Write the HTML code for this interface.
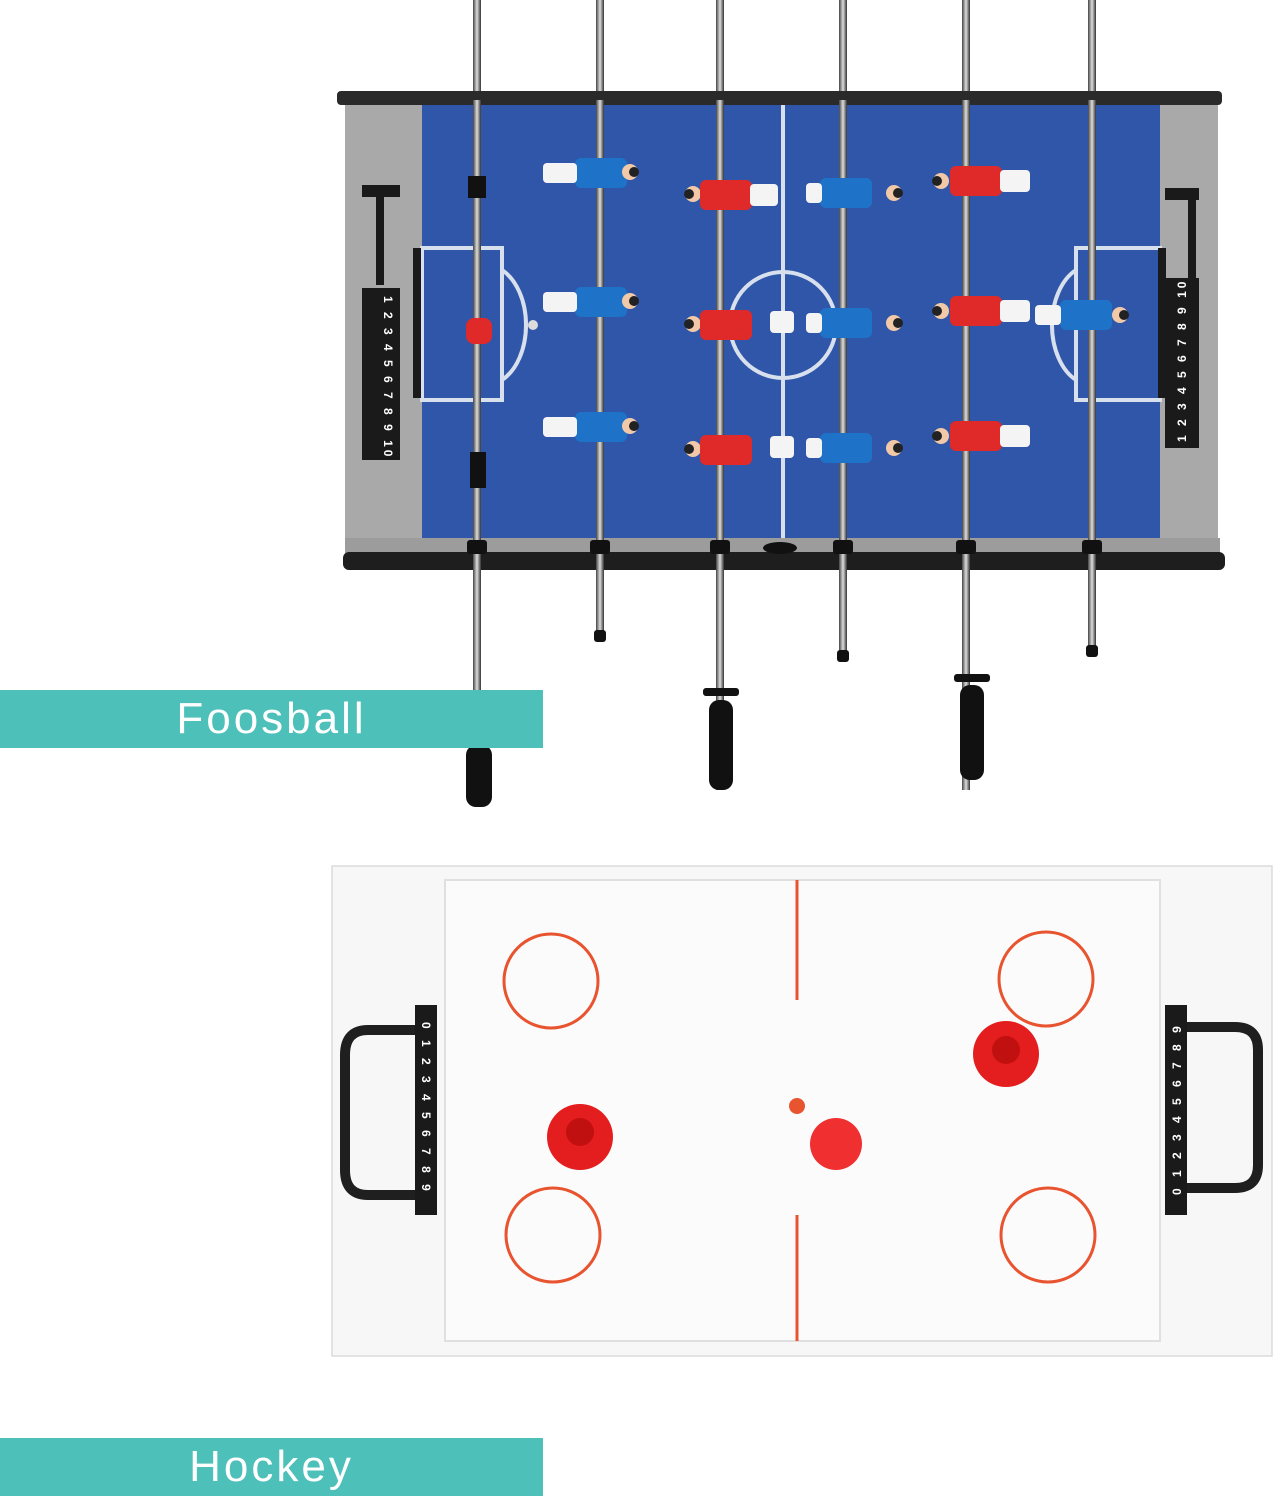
<!DOCTYPE html>
<html><head><meta charset="utf-8"><style>
html,body{margin:0;padding:0;background:#fff;}
.lbl{position:absolute;left:0;width:543px;height:58px;background:#4cc0b9;color:#fff;font-family:"Liberation Sans",sans-serif;font-size:44px;font-weight:300;line-height:58px;text-align:center;letter-spacing:3px;}
</style></head><body>
<div style="position:relative;width:1276px;height:1500px;overflow:hidden;">
<svg width="1276" height="1500" style="position:absolute;left:0;top:0">
<defs>
<linearGradient id="rod" x1="0" x2="1"><stop offset="0" stop-color="#444"/><stop offset="0.5" stop-color="#ddd"/><stop offset="1" stop-color="#333"/></linearGradient>
</defs>
<g fill="url(#rod)">
<rect x="473" y="0" width="8" height="100"/><rect x="596" y="0" width="8" height="100"/><rect x="716" y="0" width="8" height="100"/><rect x="839" y="0" width="8" height="100"/><rect x="962" y="0" width="8" height="100"/><rect x="1088" y="0" width="8" height="100"/>
</g>
<rect x="345" y="100" width="78" height="450" fill="#a9a9a9"/>
<rect x="1158" y="100" width="60" height="450" fill="#a9a9a9"/>
<rect x="422" y="104" width="738" height="436" fill="#2f56a8"/>
<g stroke="#d8e0ee" stroke-width="4" fill="none">
<line x1="783" y1="104" x2="783" y2="540"/>
<circle cx="783" cy="325" r="53"/>
<rect x="422" y="248" width="80" height="152"/>
<path d="M502 270 A40 60 0 0 1 502 380"/>
<rect x="1076" y="248" width="84" height="152"/>
<path d="M1076 270 A40 60 0 0 0 1076 380"/>
</g>
<circle cx="533" cy="325" r="5" fill="#ddd"/>
<rect x="337" y="91" width="885" height="14" rx="4" fill="#2a2a2a"/>
<rect x="345" y="538" width="875" height="18" fill="#9c9c9c"/>
<rect x="343" y="552" width="882" height="18" rx="6" fill="#1e1e1e"/>
<ellipse cx="780" cy="548" rx="17" ry="6" fill="#111"/>
<g fill="url(#rod)">
<rect x="473" y="100" width="8" height="700"/><rect x="596" y="100" width="8" height="540"/><rect x="716" y="100" width="8" height="690"/><rect x="839" y="100" width="8" height="560"/><rect x="962" y="100" width="8" height="690"/><rect x="1088" y="100" width="8" height="555"/>
</g>
<g fill="#111">
<rect x="467" y="540" width="20" height="14" rx="3"/><rect x="590" y="540" width="20" height="14" rx="3"/><rect x="710" y="540" width="20" height="14" rx="3"/><rect x="833" y="540" width="20" height="14" rx="3"/><rect x="956" y="540" width="20" height="14" rx="3"/><rect x="1082" y="540" width="20" height="14" rx="3"/>
<rect x="466" y="745" width="26" height="62" rx="10"/><rect x="709" y="700" width="24" height="90" rx="10"/><rect x="960" y="685" width="24" height="95" rx="10"/>
<rect x="703" y="688" width="36" height="8" rx="3"/><rect x="954" y="674" width="36" height="8" rx="3"/>
<rect x="594" y="630" width="12" height="12" rx="3"/><rect x="837" y="650" width="12" height="12" rx="3"/><rect x="1086" y="645" width="12" height="12" rx="3"/>
<rect x="468" y="176" width="18" height="22"/><rect x="470" y="452" width="16" height="36"/>
</g>
<g fill="#1a1a1a">
<rect x="362" y="185" width="38" height="12"/><rect x="376" y="190" width="8" height="95"/><rect x="362" y="288" width="38" height="172"/>
<rect x="1165" y="188" width="34" height="12"/><rect x="1188" y="195" width="8" height="90"/><rect x="1165" y="278" width="34" height="170"/>
<rect x="413" y="248" width="8" height="150"/><rect x="1158" y="248" width="8" height="150"/>
</g>
<g fill="#fff" font-family="Liberation Sans,sans-serif" font-size="12" font-weight="bold">
<text x="384" y="296" transform="rotate(90 384 296)" letter-spacing="3">1 2 3 4 5 6 7 8 9 10</text>
<text x="1186" y="442" transform="rotate(-90 1186 442)" letter-spacing="3">1 2 3 4 5 6 7 8 9 10</text>
</g>
<g>
<g fill="#1e73c9">
<rect x="575" y="158" width="52" height="30" rx="6"/><rect x="575" y="287" width="52" height="30" rx="6"/><rect x="575" y="412" width="52" height="30" rx="6"/>
<rect x="820" y="178" width="52" height="30" rx="6"/><rect x="820" y="308" width="52" height="30" rx="6"/><rect x="820" y="433" width="52" height="30" rx="6"/>
<rect x="1060" y="300" width="52" height="30" rx="6"/>
</g>
<g fill="#f4f4f4">
<rect x="543" y="163" width="34" height="20" rx="4"/><rect x="543" y="292" width="34" height="20" rx="4"/><rect x="543" y="417" width="34" height="20" rx="4"/>
<rect x="806" y="183" width="16" height="20" rx="4"/><rect x="806" y="313" width="16" height="20" rx="4"/><rect x="806" y="438" width="16" height="20" rx="4"/>
<rect x="1035" y="305" width="26" height="20" rx="4"/>
<rect x="770" y="311" width="24" height="22" rx="4"/><rect x="770" y="436" width="24" height="22" rx="4"/>
</g>
<g fill="#f2c9a8">
<circle cx="630" cy="172" r="8"/><circle cx="630" cy="301" r="8"/><circle cx="630" cy="426" r="8"/>
<circle cx="894" cy="193" r="8"/><circle cx="894" cy="323" r="8"/><circle cx="894" cy="448" r="8"/>
<circle cx="1120" cy="315" r="8"/>
<circle cx="693" cy="194" r="8"/><circle cx="693" cy="324" r="8"/><circle cx="693" cy="449" r="8"/>
<circle cx="941" cy="181" r="8"/><circle cx="941" cy="311" r="8"/><circle cx="941" cy="436" r="8"/>
</g>
<g fill="#222">
<circle cx="634" cy="172" r="5"/><circle cx="634" cy="301" r="5"/><circle cx="634" cy="426" r="5"/>
<circle cx="898" cy="193" r="5"/><circle cx="898" cy="323" r="5"/><circle cx="898" cy="448" r="5"/>
<circle cx="1124" cy="315" r="5"/>
<circle cx="689" cy="194" r="5"/><circle cx="689" cy="324" r="5"/><circle cx="689" cy="449" r="5"/>
<circle cx="937" cy="181" r="5"/><circle cx="937" cy="311" r="5"/><circle cx="937" cy="436" r="5"/>
</g>
<g fill="#e02a2a">
<rect x="700" y="180" width="52" height="30" rx="6"/><rect x="700" y="310" width="52" height="30" rx="6"/><rect x="700" y="435" width="52" height="30" rx="6"/>
<rect x="950" y="166" width="52" height="30" rx="6"/><rect x="950" y="296" width="52" height="30" rx="6"/><rect x="950" y="421" width="52" height="30" rx="6"/>
<rect x="466" y="318" width="26" height="26" rx="8"/>
</g>
<g fill="#f4f4f4">
<rect x="750" y="184" width="28" height="22" rx="4"/><rect x="1000" y="170" width="30" height="22" rx="4"/><rect x="1000" y="300" width="30" height="22" rx="4"/><rect x="1000" y="425" width="30" height="22" rx="4"/>
</g>
</g>
<rect x="332" y="866" width="940" height="490" fill="#f7f7f7" stroke="#dcdcdc" stroke-width="1.5"/>
<rect x="445" y="880" width="715" height="461" fill="#fbfbfb" stroke="#e0e0e0" stroke-width="2"/>
<g stroke="#e8542f" stroke-width="3" fill="none">
<line x1="797" y1="880" x2="797" y2="1000"/><line x1="797" y1="1215" x2="797" y2="1341"/>
<circle cx="551" cy="981" r="47"/><circle cx="1046" cy="979" r="47"/><circle cx="553" cy="1235" r="47"/><circle cx="1048" cy="1235" r="47"/>
</g>
<circle cx="797" cy="1106" r="8" fill="#e8542f"/>
<circle cx="836" cy="1144" r="26" fill="#f03030"/>
<circle cx="580" cy="1137" r="33" fill="#e41e1e"/><circle cx="580" cy="1132" r="14" fill="#c01010"/>
<circle cx="1006" cy="1054" r="33" fill="#e41e1e"/><circle cx="1006" cy="1050" r="14" fill="#c01010"/>
<g fill="none" stroke="#1f1f1f" stroke-width="10">
<path d="M415 1030 H368 Q345 1030 345 1055 V1170 Q345 1195 368 1195 H415"/>
<path d="M1180 1027 H1235 Q1258 1027 1258 1050 V1165 Q1258 1188 1235 1188 H1180"/>
</g>
<rect x="415" y="1005" width="22" height="210" fill="#1a1a1a"/>
<rect x="1165" y="1005" width="22" height="210" fill="#1a1a1a"/>
<g fill="#fff" font-family="Liberation Sans,sans-serif" font-size="12" font-weight="bold">
<text x="422" y="1022" transform="rotate(90 422 1022)" letter-spacing="4">0 1 2 3 4 5 6 7 8 9</text>
<text x="1181" y="1195" transform="rotate(-90 1181 1195)" letter-spacing="4">0 1 2 3 4 5 6 7 8 9</text>
</g>
</svg>
<div class="lbl" style="top:690px;">Foosball</div>
<div class="lbl" style="top:1438px;">Hockey</div>
</div>
</body></html>
